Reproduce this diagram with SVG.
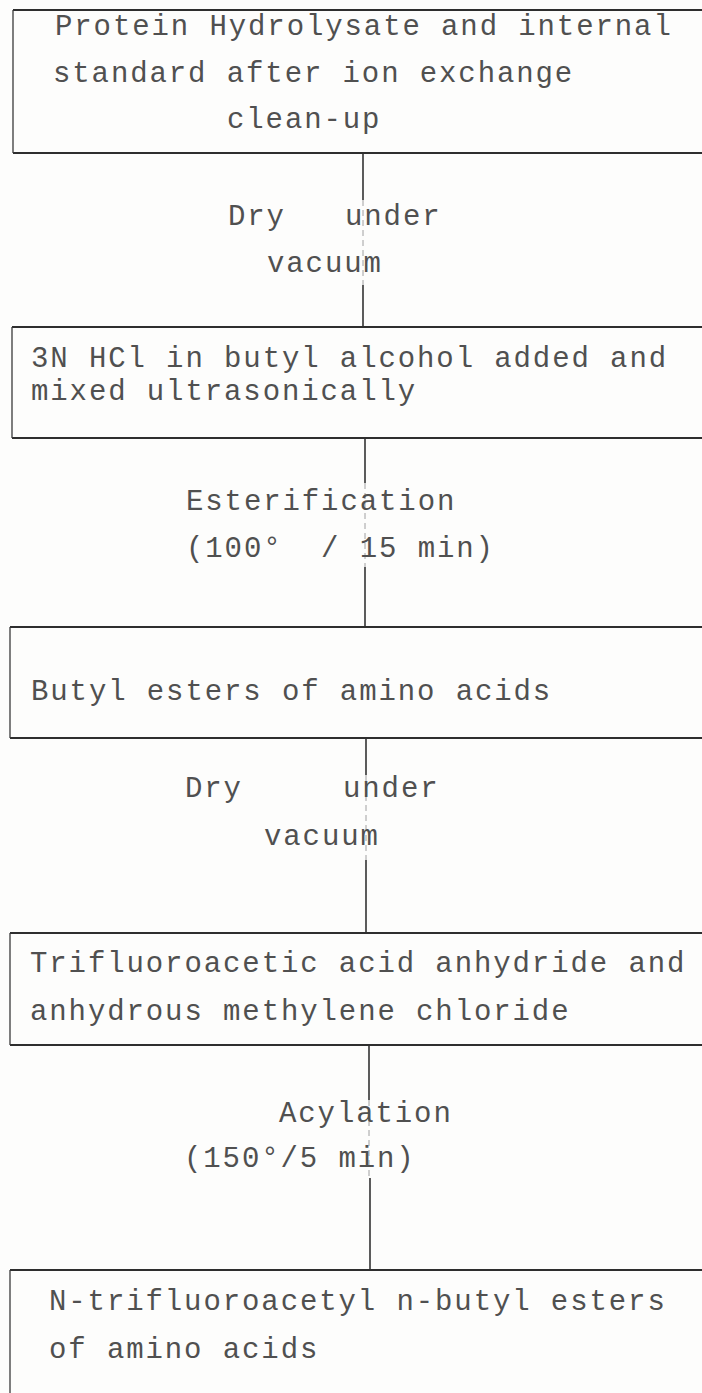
<svg xmlns="http://www.w3.org/2000/svg" width="702" height="1393" viewBox="0 0 702 1393">
<style>
.bg{fill:#fdfdfc}
.edge{fill:none;stroke:#2e2e2e;stroke-width:2.2}
.side{fill:none;stroke:#3a3a3a;stroke-width:1.3}
.conn{stroke:#333;stroke-width:1.6;fill:none}
.faint{stroke:#666;stroke-width:1;fill:none;stroke-dasharray:6 4;opacity:0.6}
text{font-family:"Liberation Mono","DejaVu Sans Mono",monospace;font-size:29px;letter-spacing:1.9px;fill:#505050}
</style>
<rect class="bg" x="0" y="0" width="702" height="1393"/>
<g id="connectors">
  <line class="conn" x1="363" y1="153" x2="363" y2="200"/>
  <line class="faint" x1="363" y1="200" x2="363" y2="285"/>
  <line class="conn" x1="363" y1="285" x2="363" y2="327"/>
  <line class="conn" x1="365" y1="438" x2="365" y2="483"/>
  <line class="faint" x1="365" y1="483" x2="365" y2="567"/>
  <line class="conn" x1="365" y1="567" x2="365" y2="627"/>
  <line class="conn" x1="366" y1="738" x2="366" y2="775"/>
  <line class="faint" x1="366" y1="775" x2="366" y2="860"/>
  <line class="conn" x1="366" y1="860" x2="366" y2="933"/>
  <line class="conn" x1="369" y1="1045" x2="369" y2="1100"/>
  <line class="faint" x1="369" y1="1100" x2="369" y2="1178"/>
  <line class="conn" x1="370" y1="1178" x2="370" y2="1270"/>
</g>
<g id="node1">
  <path class="edge" d="M13 10 H702 M13 153 H702"/>
  <path class="side" d="M13 10 V153"/>
  <text x="55" y="35">Protein Hydrolysate and internal</text>
  <text x="53" y="82">standard after ion exchange</text>
  <text x="227" y="128">clean-up</text>
</g>
<g id="label1">
  <text x="228" y="225">Dry</text>
  <text x="345" y="225">under</text>
  <text x="267" y="272">vacuum</text>
</g>
<g id="node2">
  <path class="edge" d="M12 327 H702 M12 438 H702"/>
  <path class="side" d="M12 327 V438"/>
  <text x="31" y="367">3N HCl in butyl alcohol added and</text>
  <text x="31" y="400">mixed ultrasonically</text>
</g>
<g id="label2">
  <text x="186" y="510">Esterification</text>
  <text x="186" y="557" xml:space="preserve">(100°  / 15 min)</text>
</g>
<g id="node3">
  <path class="edge" d="M10 627 H702 M10 738 H702"/>
  <path class="side" d="M10 627 V738"/>
  <text x="31" y="700">Butyl esters of amino acids</text>
</g>
<g id="label3">
  <text x="185" y="797">Dry</text>
  <text x="343" y="797">under</text>
  <text x="264" y="845">vacuum</text>
</g>
<g id="node4">
  <path class="edge" d="M10 933 H702 M10 1045 H702"/>
  <path class="side" d="M10 933 V1045"/>
  <text x="30" y="972">Trifluoroacetic acid anhydride and</text>
  <text x="30" y="1020">anhydrous methylene chloride</text>
</g>
<g id="label4">
  <text x="279" y="1122">Acylation</text>
  <text x="184" y="1167">(150°/5 min)</text>
</g>
<g id="node5">
  <path class="edge" d="M10 1270 H702"/>
  <path class="side" d="M10 1270 V1393"/>
  <text x="49" y="1310">N-trifluoroacetyl n-butyl esters</text>
  <text x="49" y="1358">of amino acids</text>
</g>
</svg>
